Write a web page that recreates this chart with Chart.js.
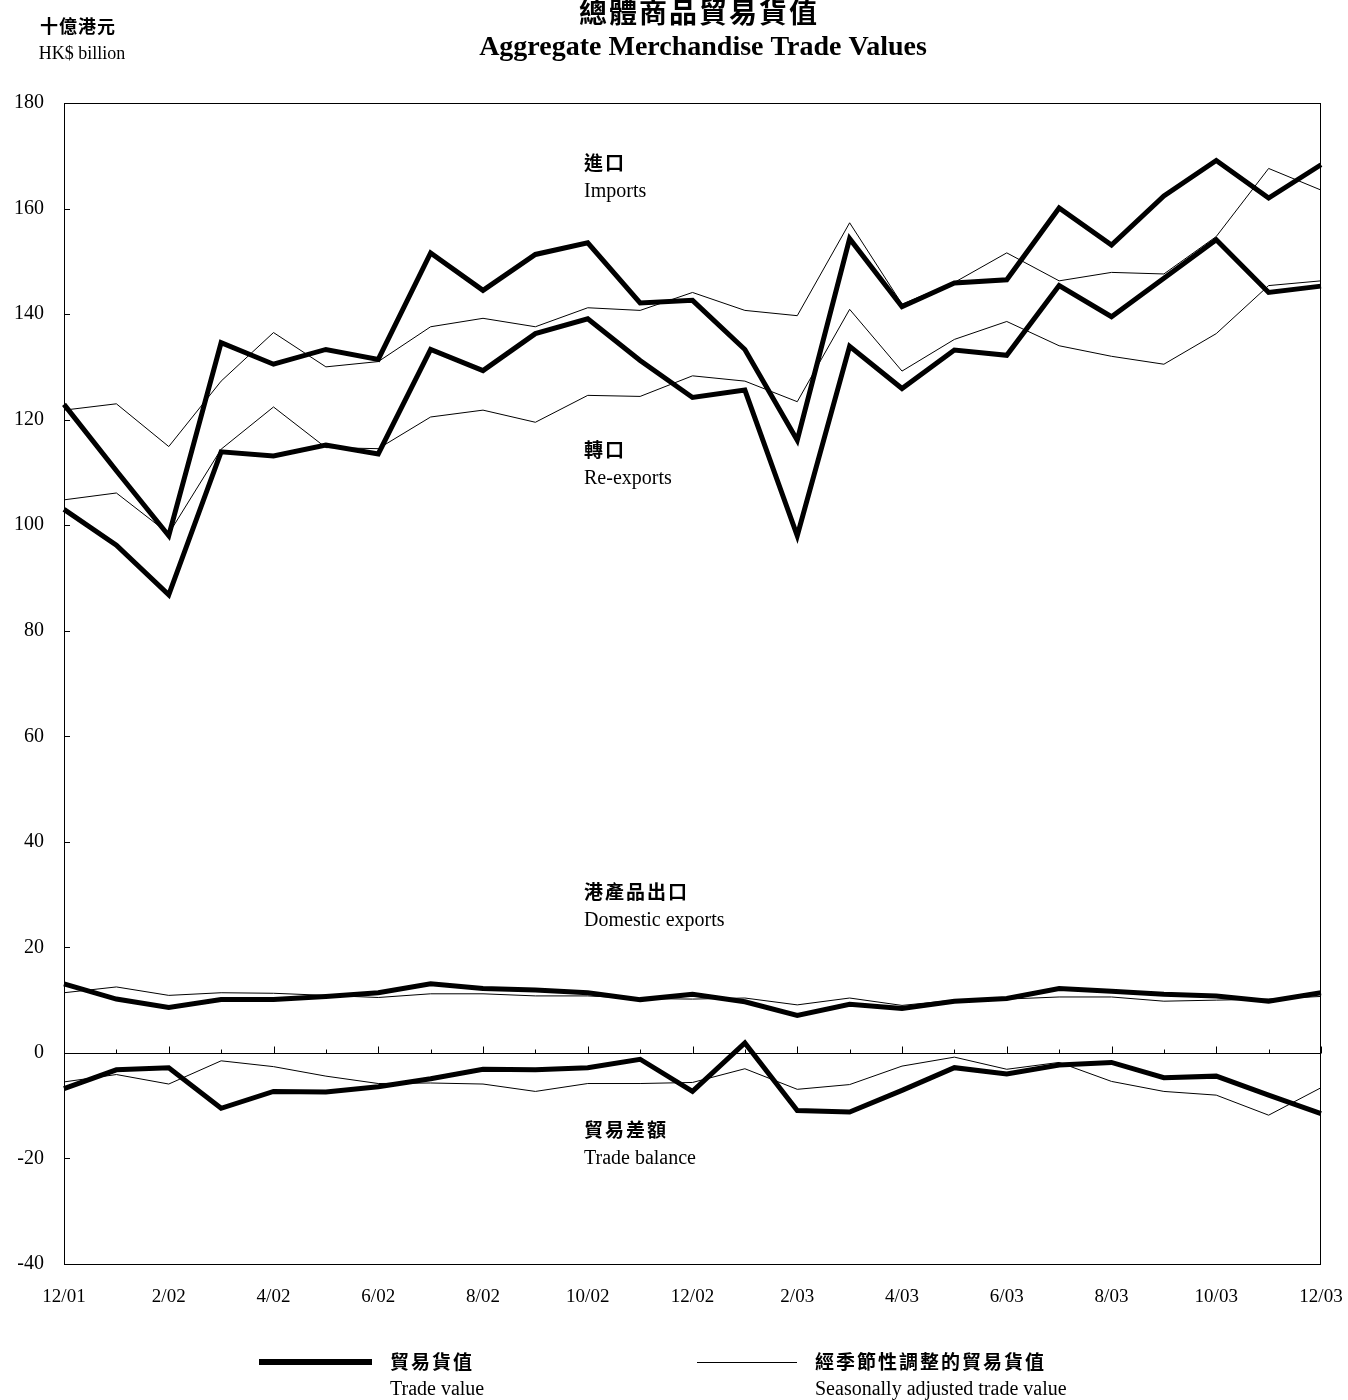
<!DOCTYPE html>
<html>
<head>
<meta charset="utf-8">
<script src="https://cdn.jsdelivr.net/npm/chart.js@4.4.1/dist/chart.umd.min.js"></script>
<style>
  body { margin: 0; background: #fff; }
  canvas { display: block; }
</style>
</head>
<body>
<canvas id="tradeChart" width="1348" height="1400"></canvas>
<script>
// months, 12/01 .. 12/03
const months = ['12/01','1/02','2/02','3/02','4/02','5/02','6/02','7/02','8/02','9/02','10/02','11/02',
  '12/02','1/03','2/03','3/03','4/03','5/03','6/03','7/03','8/03','9/03','10/03','11/03','12/03'];

const yTicks = [-40, -20, 0, 20, 40, 60, 80, 100, 120, 140, 160, 180];

// 進口 Imports
const importsTV = [122.9,110.3,98.0,134.6,130.5,133.3,131.4,151.6,144.5,151.3,153.5,142.1,142.6,133.3,116.1,154.3,141.4,145.9,146.5,160.1,153.1,162.4,169.1,162.0,168.3];
const importsSA = [121.8,123.0,114.9,127.3,136.5,130.0,131.0,137.6,139.2,137.6,141.2,140.7,144.1,140.7,139.7,157.3,141.9,146.0,151.6,146.3,147.9,147.6,154.7,167.6,163.5];

// 轉口 Re-exports
const reexportsTV = [103.0,96.2,86.8,113.9,113.1,115.2,113.5,133.3,129.3,136.3,139.1,131.2,124.2,125.6,98.0,133.9,125.9,133.2,132.2,145.4,139.5,146.8,154.1,144.1,145.3];
const reexportsSA = [104.8,106.1,98.4,114.4,122.4,114.7,114.5,120.5,121.8,119.5,124.6,124.4,128.3,127.3,123.4,140.9,129.2,135.2,138.6,134.0,132.0,130.5,136.3,145.4,146.3];

// 港產品出口 Domestic exports
const domesticTV = [13.1,10.2,8.6,10.1,10.1,10.7,11.4,13.1,12.2,11.9,11.4,10.1,11.1,9.7,7.1,9.2,8.4,9.8,10.3,12.2,11.7,11.1,10.8,9.8,11.4];
const domesticSA = [11.4,12.5,10.9,11.4,11.3,10.9,10.5,11.2,11.2,10.8,10.8,10.3,10.2,10.4,9.1,10.4,9.0,10.0,10.2,10.6,10.6,9.8,10.0,10.2,10.7];

// 貿易差額 Trade balance
const balanceTV = [-6.75,-3.2,-2.8,-10.5,-7.3,-7.4,-6.4,-4.9,-3.1,-3.2,-2.8,-1.2,-7.3,1.9,-10.9,-11.2,-7.1,-2.8,-4.0,-2.3,-1.8,-4.7,-4.4,-8.0,-11.5];
const balanceSA = [-5.5,-4.1,-5.9,-1.5,-2.6,-4.4,-5.8,-5.7,-5.9,-7.3,-5.8,-5.8,-5.6,-3.0,-6.9,-6.0,-2.5,-0.8,-3.1,-1.8,-5.4,-7.3,-8.0,-11.8,-6.6];

const CJK = '"Noto Sans CJK TC", "Noto Sans CJK SC", sans-serif';
const SERIF = '"Liberation Serif", "Times New Roman", serif';

const thin  = (data) => ({ data, borderColor: '#000', borderWidth: 1, pointRadius: 0, tension: 0, borderJoinStyle: 'miter' });
const thick = (data) => ({ data, borderColor: '#000', borderWidth: 5, pointRadius: 0, tension: 0, borderJoinStyle: 'miter' });

// 框、零線、刻度、文字、圖例
const decorPlugin = {
  id: 'decor',
  afterDraw(chart) {
    const ctx = chart.ctx;
    const a = chart.chartArea;
    const xs = chart.scales.x;
    const ys = chart.scales.y;
    ctx.save();

    // frame
    ctx.strokeStyle = '#000';
    ctx.lineWidth = 1;
    ctx.strokeRect(a.left + 0.5, a.top + 0.5, a.right - a.left - 1, a.bottom - a.top);

    // zero line
    const y0 = Math.round(ys.getPixelForValue(0)) + 0.5;
    ctx.beginPath();
    ctx.moveTo(a.left, y0);
    ctx.lineTo(a.right, y0);
    ctx.stroke();

    // x ticks on zero line, pointing up
    months.forEach((m, i) => {
      const x = Math.round(xs.getPixelForValue(i)) + 0.5;
      const len = i % 2 === 0 ? 7 : 4;
      ctx.beginPath();
      ctx.moveTo(x, y0);
      ctx.lineTo(x, y0 - len);
      ctx.stroke();
    });

    // y ticks pointing inward
    yTicks.forEach(v => {
      const y = Math.round(ys.getPixelForValue(v)) + 0.5;
      ctx.beginPath();
      ctx.moveTo(a.left, y);
      ctx.lineTo(a.left + 6, y);
      ctx.stroke();
    });

    ctx.fillStyle = '#000';
    ctx.textBaseline = 'middle';

    // titles
    ctx.textAlign = 'center';
    ctx.font = `bold 28px ${CJK}`;
    ctx.letterSpacing = '2px';
    ctx.fillText('總體商品貿易貨值', 699, 12);
    ctx.letterSpacing = '0px';
    ctx.font = `bold 28px ${SERIF}`;
    ctx.fillText('Aggregate Merchandise Trade Values', 703, 48);

    ctx.font = `bold 18px ${CJK}`;
    ctx.letterSpacing = '1px';
    ctx.fillText('十億港元', 78, 26);
    ctx.letterSpacing = '0px';
    ctx.font = `18px ${SERIF}`;
    ctx.fillText('HK$ billion', 82, 54);

    // series labels
    ctx.textAlign = 'left';
    const seriesLabels = [
      ['進口', 'Imports', 163],
      ['轉口', 'Re-exports', 450],
      ['港產品出口', 'Domestic exports', 892],
      ['貿易差額', 'Trade balance', 1130]
    ];
    seriesLabels.forEach(([zh, en, y]) => {
      ctx.font = `bold 19px ${CJK}`;
      ctx.letterSpacing = '2px';
      ctx.fillText(zh, 584, y);
      ctx.letterSpacing = '0px';
      ctx.font = `20px ${SERIF}`;
      ctx.fillText(en, 584, y + 29);
    });

    // legend
    ctx.lineWidth = 6;
    ctx.beginPath();
    ctx.moveTo(259, 1362);
    ctx.lineTo(372, 1362);
    ctx.stroke();
    ctx.lineWidth = 1;
    ctx.beginPath();
    ctx.moveTo(697, 1362.5);
    ctx.lineTo(797, 1362.5);
    ctx.stroke();

    ctx.font = `bold 19px ${CJK}`;
    ctx.letterSpacing = '2px';
    ctx.fillText('貿易貨值', 390, 1362);
    ctx.fillText('經季節性調整的貿易貨值', 815, 1362);
    ctx.letterSpacing = '0px';
    ctx.font = `20px ${SERIF}`;
    ctx.fillText('Trade value', 390, 1390);
    ctx.fillText('Seasonally adjusted trade value', 815, 1390);

    ctx.restore();
  }
};

new Chart(document.getElementById('tradeChart').getContext('2d'), {
  type: 'line',
  data: {
    labels: months,
    datasets: [
      thin(importsSA), thin(reexportsSA), thin(domesticSA), thin(balanceSA),
      thick(importsTV), thick(reexportsTV), thick(domesticTV), thick(balanceTV)
    ]
  },
  options: {
    responsive: false,
    devicePixelRatio: 1,
    animation: false,
    layout: { padding: { top: 103, right: 27, left: 0, bottom: 0 } },
    plugins: {
      legend: { display: false },
      tooltip: { enabled: false },
      title: { display: false }
    },
    scales: {
      x: {
        type: 'category',
        offset: false,
        grid: { display: false, drawTicks: false },
        border: { display: false },
        ticks: {
          autoSkip: false,
          maxRotation: 0,
          padding: 22,
          color: '#000',
          font: { family: SERIF, size: 19 },
          callback: (v, i) => (i % 2 === 0 ? months[i] : '')
        },
        afterFit: (s) => { s.height = 136; s.paddingLeft = 0; s.paddingRight = 0; }
      },
      y: {
        min: -40,
        max: 180,
        grid: { display: false, drawTicks: false },
        border: { display: false },
        ticks: {
          stepSize: 20,
          padding: 20,
          color: '#000',
          font: { family: SERIF, size: 20 }
        },
        afterFit: (s) => { s.width = 64; s.paddingTop = 0; s.paddingBottom = 0; }
      }
    }
  },
  plugins: [decorPlugin]
});
</script>
</body>
</html>
